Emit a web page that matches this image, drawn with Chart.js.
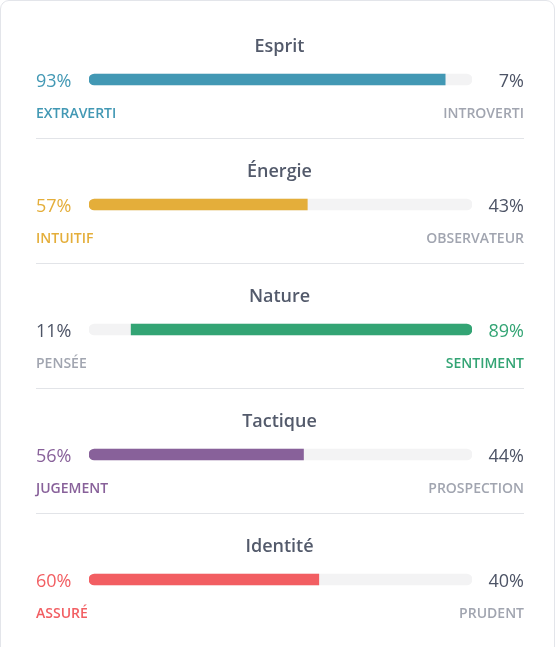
<!DOCTYPE html>
<html>
<head>
<meta charset="utf-8">
<script src="https://cdn.jsdelivr.net/npm/chart.js@4.4.1/dist/chart.umd.min.js"></script>
<style>
  html, body { margin: 0; padding: 0; background: #ffffff; }
  body { width: 556px; height: 647px; position: relative; overflow: hidden; }
  .card { position: absolute; left: 0px; top: 0px; width: 553px; height: 700px;
          border: 1px solid #e3e5ea; border-radius: 9px; background: #fff; }
  #wrap { position: absolute; left: 0; top: 0; width: 556px; height: 647px; }
</style>
</head>
<body>
<div class="card"></div>
<div id="wrap"><canvas id="c"></canvas></div>
<script>
const traits = ['Esprit', 'Énergie', 'Nature', 'Tactique', 'Identité'];
const leftLabels = ['EXTRAVERTI', 'INTUITIF', 'PENSÉE', 'JUGEMENT', 'ASSURÉ'];
const rightLabels = ['INTROVERTI', 'OBSERVATEUR', 'SENTIMENT', 'PROSPECTION', 'PRUDENT'];
const leftPercent = [93, 57, 11, 56, 60];
const rightPercent = [7, 43, 89, 44, 40];
const traitColors = ['#4298b4', '#e4ae3a', '#33a474', '#88619a', '#f25e62'];

const TEXT_DARK = '#4d5466';
const TITLE_COLOR = '#535a6b';
const TEXT_GRAY = '#a1a5b0';
const TRACK = '#f3f3f4';
const FONT = '"Open Sans", sans-serif';

const leftDominant = leftPercent.map((v, i) => v >= rightPercent[i]);
const fillData = leftPercent.map((v, i) => leftDominant[i] ? [0, v] : [v, 100]);
const fillRadius = leftDominant.map(d => d
  ? { topLeft: 6, bottomLeft: 6, topRight: 0, bottomRight: 0 }
  : { topLeft: 0, bottomLeft: 0, topRight: 6, bottomRight: 6 });

const textPlugin = {
  id: 'traitText',
  beforeDatasetsDraw(chart) {
    const { ctx, scales } = chart;
    ctx.save();
    ctx.strokeStyle = '#e2e4e8';
    ctx.lineWidth = 1;
    traits.forEach((t, i) => {
      if (i === traits.length - 1) return;
      const y = Math.round(scales.y.getPixelForValue(i) + 58) + 0.5;
      ctx.beginPath();
      ctx.moveTo(36, y);
      ctx.lineTo(524, y);
      ctx.stroke();
    });
    ctx.restore();
  },
  afterDatasetsDraw(chart) {
    const { ctx, chartArea, scales } = chart;
    const cx = (chartArea.left + chartArea.right) / 2;
    ctx.save();
    ctx.textBaseline = 'alphabetic';
    traits.forEach((t, i) => {
      const y = scales.y.getPixelForValue(i);
      const col = traitColors[i];
      const ld = leftDominant[i];
      // title
      ctx.font = '600 18px ' + FONT;
      ctx.fillStyle = TITLE_COLOR;
      ctx.textAlign = 'center';
      ctx.fillText(t, cx - 1, y - 27.5);
      // percentages
      ctx.font = '18px ' + FONT;
      ctx.textAlign = 'left';
      ctx.fillStyle = ld ? col : TEXT_DARK;
      ctx.fillText(leftPercent[i] + '%', 36, y + 7.5);
      ctx.textAlign = 'right';
      ctx.fillStyle = ld ? TEXT_DARK : col;
      ctx.fillText(rightPercent[i] + '%', 524, y + 7.5);
      // labels
      ctx.font = '600 14px ' + FONT;
      ctx.textAlign = 'left';
      ctx.fillStyle = ld ? col : TEXT_GRAY;
      ctx.fillText(leftLabels[i], 36, y + 38);
      ctx.textAlign = 'right';
      ctx.fillStyle = ld ? TEXT_GRAY : col;
      ctx.fillText(rightLabels[i], 524, y + 38);
    });
    ctx.restore();
  }
};

new Chart(document.getElementById('c'), {
  type: 'bar',
  data: {
    labels: traits,
    datasets: [
      {
        data: fillData,
        backgroundColor: traitColors,
        borderRadius: fillRadius,
        borderSkipped: false,
        barThickness: 11,
        grouped: false
      },
      {
        data: traits.map(() => 100),
        backgroundColor: TRACK,
        borderRadius: 6,
        borderSkipped: false,
        barThickness: 11,
        grouped: false
      }
    ]
  },
  options: {
    indexAxis: 'y',
    responsive: true,
    maintainAspectRatio: false,
    animation: false,
    layout: { padding: { left: 89, right: 84, top: 17, bottom: 5 } },
    scales: {
      x: { display: false, min: 0, max: 100 },
      y: { display: false }
    },
    plugins: {
      legend: { display: false },
      tooltip: { enabled: false }
    }
  },
  plugins: [textPlugin]
});
</script>
</body>
</html>
